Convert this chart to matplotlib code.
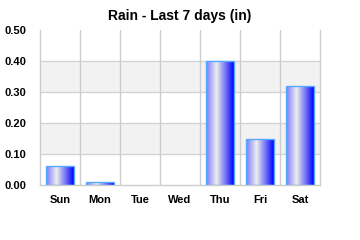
import matplotlib
matplotlib.use("Agg")
import matplotlib.pyplot as plt
import numpy as np
from matplotlib.colors import LinearSegmentedColormap

days = ["Sun", "Mon", "Tue", "Wed", "Thu", "Fri", "Sat"]
rain = [0.06, 0.01, 0.0, 0.0, 0.40, 0.15, 0.32]
yticks = [0.0, 0.1, 0.2, 0.3, 0.4, 0.5]

plt.rcParams['font.family'] = ['Liberation Sans', 'DejaVu Sans']

fig = plt.figure(figsize=(3.6, 2.4), dpi=100)
ax = fig.add_axes([40/360, 55/240, 280/360, 155/240])

x = np.arange(len(days))
ax.set_xlim(-0.5, len(days) - 0.5)
ax.set_ylim(0, 0.5)

# alternating bands
for lo in (0.1, 0.3):
    ax.axhspan(lo, lo + 0.1, color="#f2f2f2", zorder=0, lw=0)
for y in yticks[1:-1]:
    ax.axhline(y, color="#d4d4d4", lw=1, zorder=1)
for xb in np.arange(0.5, len(days) - 0.5, 1):
    ax.axvline(xb, color="#cccccc", lw=1, zorder=1)

cmap = LinearSegmentedColormap.from_list(
    "g", [(0, "#7878ff"), (0.38, "#eeeeee"), (1, "#0000ff")])
grad = np.linspace(0, 1, 256).reshape(1, -1)

bars = ax.bar(x, rain, width=0.7, color="none", edgecolor="#55aaff", lw=1, zorder=3)
for b, v in zip(bars, rain):
    if v <= 0:
        b.set_visible(False)
        continue
    x0 = b.get_x()
    w = b.get_width()
    im = ax.imshow(grad, cmap=cmap, aspect="auto",
                   extent=[x0, x0 + w, 0, v], zorder=2, interpolation="bilinear")
    im.set_clip_path(b)
ax.set_xlim(-0.5, len(days) - 0.5)
ax.set_ylim(0, 0.5)

ax.spines["top"].set_visible(False)
for s in ("left", "bottom", "right"):
    ax.spines[s].set_color("#cccccc")
    ax.spines[s].set_linewidth(1)

ax.set_xticks(x)
ax.set_xticklabels(days, fontsize=8, fontweight="bold")
ax.set_yticks(yticks)
ax.set_yticklabels([f"{v:.2f}" for v in yticks], fontsize=8, fontweight="bold")
ax.tick_params(length=0, pad=7)
ax.tick_params(axis="y", pad=10)

fig.text(0.5, 0.935, "Rain - Last 7 days (in)", ha="center", va="center",
         fontsize=10, fontweight="bold")

fig.savefig("out.png", dpi=100)
